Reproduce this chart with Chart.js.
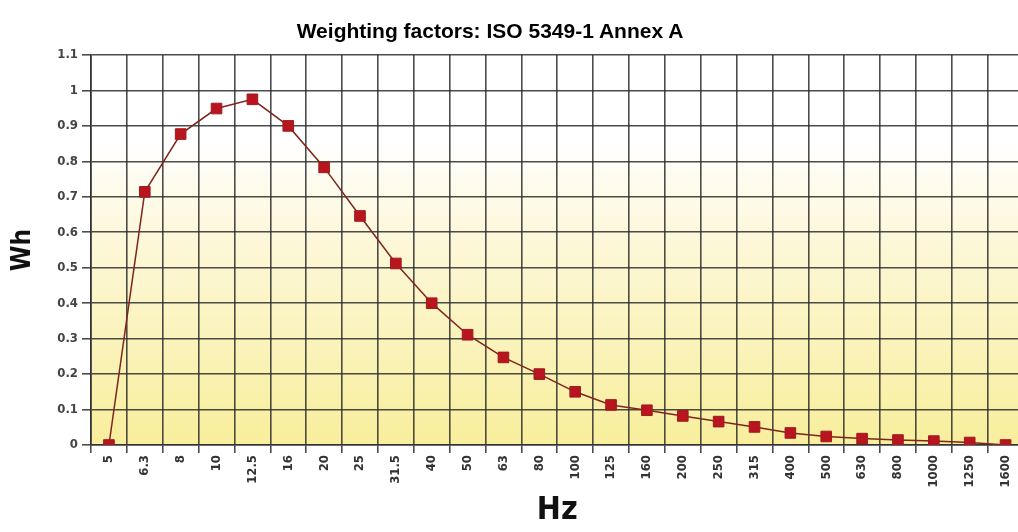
<!DOCTYPE html>
<html>
<head>
<meta charset="utf-8">
<script src="https://cdn.jsdelivr.net/npm/chart.js@4"></script>
<style>
  html, body { margin: 0; padding: 0; background: #fff; overflow: hidden; width: 1018px; height: 532px; }
  #wrap { position: relative; width: 1018px; height: 532px; }
  #title {
    position: absolute; left: 0; top: 19px; width: 980px; text-align: center;
    font: bold 21px "Liberation Sans", Arial, sans-serif; color: #000;
  }
  canvas { position: absolute; left: 0; top: 0; }
</style>
</head>
<body>
<div id="wrap">
  <canvas id="wh" width="1032" height="532"></canvas>
  <div id="title">Weighting factors: ISO 5349-1 Annex A</div>
</div>
<script>
// Data
const freqLabels = ['5', '6.3', '8', '10', '12.5', '16', '20', '25', '31.5', '40', '50', '63', '80',
  '100', '125', '160', '200', '250', '315', '400', '500', '630', '800', '1000', '1250', '1600'];
const whValues = [0, 0.714, 0.877, 0.949, 0.975, 0.9, 0.783, 0.646, 0.512, 0.4, 0.311, 0.247, 0.2,
  0.15, 0.113, 0.098, 0.082, 0.066, 0.051, 0.034, 0.024, 0.018, 0.014, 0.011, 0.007, 0.0];
const yMax = 1.1;
const yStep = 0.1;

const tickFont = { family: '"Liberation Sans Narrow", "DejaVu Sans Condensed", sans-serif', weight: 'bold' };

// yellow fade behind the plot
const areaFill = {
  id: 'areaFill',
  beforeDraw(chart) {
    const { ctx, chartArea: a } = chart;
    const g = ctx.createLinearGradient(0, a.top, 0, a.bottom);
    g.addColorStop(0, '#ffffff');
    g.addColorStop(0.22, '#ffffff');
    g.addColorStop(0.45, '#fdf8dc');
    g.addColorStop(1, '#f8ee9c');
    ctx.save();
    ctx.fillStyle = g;
    ctx.fillRect(a.left, a.top, a.right - a.left, a.bottom - a.top);
    ctx.restore();
  }
};

const ctx = document.getElementById('wh').getContext('2d');
new Chart(ctx, {
  type: 'line',
  data: {
    labels: freqLabels,
    datasets: [{
      data: whValues,
      borderColor: '#7e261e',
      borderWidth: 1.5,
      pointStyle: 'rect',
      pointRadius: 7.5,
      pointBackgroundColor: '#b8151f',
      pointBorderColor: '#9e1a1e',
      pointBorderWidth: 1,
      tension: 0
    }]
  },
  options: {
    responsive: false,
    animation: false,
    layout: { padding: { top: 55, right: 2, left: 0, bottom: 0 } },
    plugins: { legend: { display: false }, tooltip: { enabled: false } },
    scales: {
      x: {
        offset: true,
        grid: { offset: true, color: 'rgba(45,45,45,0.85)', lineWidth: 1.6, tickLength: 8 },
        border: { color: '#333', width: 1.6 },
        ticks: { minRotation: 90, maxRotation: 90, autoSkip: false, color: '#333', padding: 2,
          font: { ...tickFont, size: 13 } },
        title: { display: true, text: 'Hz', color: '#111', padding: { top: 0, bottom: 2 },
          font: { ...tickFont, size: 32 } },
        afterFit(scale) { scale.height = 87; }
      },
      y: {
        min: 0,
        max: yMax,
        grid: { color: 'rgba(45,45,45,0.85)', lineWidth: 1.6, tickLength: 9 },
        border: { color: '#333', width: 1.6 },
        ticks: { stepSize: yStep, color: '#444', padding: 4,
          font: { ...tickFont, size: 13 },
          callback: v => String(parseFloat(v.toFixed(1))) },
        title: { display: true, text: 'Wh', color: '#111', padding: { top: 8, bottom: 0 },
          font: { ...tickFont, size: 26 } },
        afterFit(scale) { scale.width = 91; }
      }
    }
  },
  plugins: [areaFill]
});
</script>
</body>
</html>
